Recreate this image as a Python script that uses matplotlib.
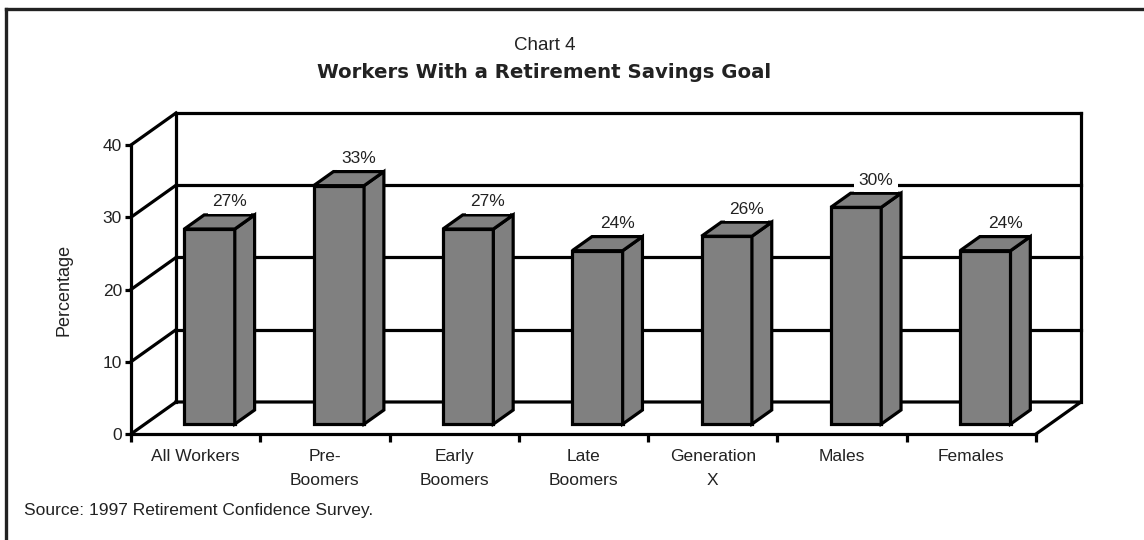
import matplotlib.pyplot as plt
from matplotlib.patches import Polygon, Rectangle
from matplotlib.lines import Line2D

categories = ["All Workers", "Pre-\nBoomers", "Early\nBoomers", "Late\nBoomers",
              "Generation\nX", "Males", "Females"]
values = [27, 33, 27, 24, 26, 30, 24]
labels = ["27%", "33%", "27%", "24%", "26%", "30%", "24%"]
yticks = [0, 10, 20, 30, 40]

SANS = ["Liberation Sans", "DejaVu Sans"]
TXT = "#222222"
BAR = "#808080"
LW = 2.3

# depth of the floor in data units (x: categories, y: percent)
DX, DY = 0.348, 4.43
BAR_Z0, BAR_D = 0.31, 0.44   # bar placement / thickness as fraction of floor depth
HALF = 0.195

fig = plt.figure(figsize=(11.44, 5.40), dpi=100)
ax = fig.add_axes([131 / 1144, 106 / 540, 905 / 1144, 289 / 540])
n = len(categories)
x0, x1 = -0.5, n - 0.5
ax.set_xlim(x0, x1)
ax.set_ylim(0, 40)

for s in ["top", "right"]:
    ax.spines[s].set_visible(False)
for s in ["left", "bottom"]:
    ax.spines[s].set_linewidth(LW)
    ax.spines[s].set_color("black")
    ax.spines[s].set_capstyle("projecting")

ax.set_yticks(yticks)
ax.set_yticklabels([str(t) for t in yticks], family=SANS, fontsize=12.5, color=TXT)
ax.tick_params(axis="y", length=4.5, width=LW, pad=2, color="black")

ax.set_xticks([i - 0.5 for i in range(n + 1)])
ax.set_xticklabels([])
ax.tick_params(axis="x", which="major", length=5.5, width=LW, color="black")
ax.set_xticks(range(n), minor=True)
ax.set_xticklabels(categories, minor=True, family=SANS, fontsize=12.5,
                   color=TXT, linespacing=1.7)
ax.tick_params(axis="x", which="minor", length=0, pad=11)

line_kw = dict(color="black", lw=LW, clip_on=False, zorder=1, solid_capstyle="projecting")

# floor
ax.plot([x1, x1 + DX, x0 + DX], [0, DY, DY], **line_kw)
# back wall
ax.plot([x0 + DX, x0 + DX], [DY, 40 + DY], **line_kw)
ax.plot([x1 + DX, x1 + DX], [DY, 40 + DY], **line_kw)
for t in yticks[1:]:
    ax.plot([x0 + DX, x1 + DX], [t + DY, t + DY], **line_kw)
# left wall diagonals
for t in yticks:
    ax.plot([x0, x0 + DX], [t, t + DY], **line_kw)

# 3-D style bars
bdx, bdy = BAR_D * DX, BAR_D * DY
for i, (v, lab) in enumerate(zip(values, labels)):
    left = i - HALF + BAR_Z0 * DX
    right = i + HALF + BAR_Z0 * DX
    base = BAR_Z0 * DY
    top = base + v
    kw = dict(facecolor=BAR, edgecolor="black", lw=LW, clip_on=False,
              zorder=3, joinstyle="miter")
    ax.add_patch(Rectangle((left, base), right - left, v, **kw))
    ax.add_patch(Polygon([(right, base), (right + bdx, base + bdy),
                          (right + bdx, top + bdy), (right, top)], **kw))
    ax.add_patch(Polygon([(left, top), (right, top), (right + bdx, top + bdy),
                          (left + bdx, top + bdy)], **kw))
    ax.annotate(lab, (i + BAR_Z0 * DX + bdx, top + bdy), xytext=(0, 4),
                textcoords="offset points", ha="center", va="bottom",
                family=SANS, fontsize=12.5, color=TXT, zorder=4,
                bbox=dict(boxstyle="square,pad=0.25", fc="white", ec="none"),
                annotation_clip=False)

fig.text(545 / 1144, 1 - 46 / 540, "Chart 4", ha="center", va="center",
         family=SANS, fontsize=13.5, color=TXT)
fig.text(544 / 1144, 1 - 72 / 540, "Workers With a Retirement Savings Goal",
         ha="center", va="center", family="DejaVu Sans", fontweight="bold",
         fontsize=14.2, color=TXT)
fig.text(64 / 1144, 1 - 290 / 540, "Percentage", rotation=90, ha="center",
         va="center", family=SANS, fontsize=13, color=TXT)
fig.text(24 / 1144, 1 - 511 / 540, "Source: 1997 Retirement Confidence Survey.",
         ha="left", va="center", family=SANS, fontsize=12.5, color=TXT)

# outer frame: top and left edges only
fig.add_artist(Line2D([6 / 1144, 1], [1 - 9 / 540, 1 - 9 / 540],
                      color="#222222", lw=2.4, transform=fig.transFigure))
fig.add_artist(Line2D([6 / 1144, 6 / 1144], [0, 1 - 9 / 540],
                      color="#222222", lw=2.4, transform=fig.transFigure))

fig.savefig("out.png", dpi=100)
